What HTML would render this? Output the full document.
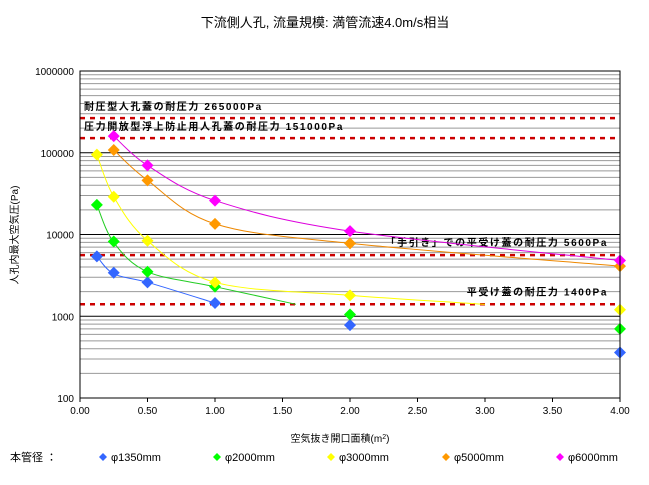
<!DOCTYPE html>
<html><head><meta charset="utf-8"><style>
body{margin:0;background:#fff;}
text{font-family:"Liberation Sans","Noto Sans CJK JP",sans-serif;}
</style></head><body>
<svg id="c" width="649" height="480" xmlns="http://www.w3.org/2000/svg">
<rect x="0" y="0" width="649" height="480" fill="#fff"/>
<text x="325" y="27" font-size="13" text-anchor="middle">下流側人孔, 流量規模: 満管流速4.0m/s相当</text>
<g id="grid"></g><g id="ref"></g><g id="series"></g><g id="axes"></g>
<text x="340" y="442" font-size="10" text-anchor="middle">空気抜き開口面積(m<tspan baseline-shift="super" font-size="7">2</tspan>)</text>
<text transform="translate(18,235) rotate(-90)" font-size="10" text-anchor="middle">人孔内最大空気圧(Pa)</text>
<text x="10" y="461" font-size="11">本管径 ：</text>
<g id="legend"></g>
</svg>
<script>
const xs=[0.125,0.25,0.5,1,2,4];
const names=["φ1350mm","φ2000mm","φ3000mm","φ5000mm","φ6000mm"];
const colors=["#3366ff","#00ff00","#ffff00","#ff9900","#ff00ff"];
const lineColors=["#3366ff","#22cc22","#ffff00","#ee8800","#dd00dd"];
const blue=[5400,3400,2600,1450,780,360];
const green=[23000,8200,3500,2300,1050,700];
const yellow=[95000,29000,8400,2600,1800,1200];
const orange=[null,108000,46000,13500,7800,4100];
const magenta=[null,160000,70000,26000,11000,4800];
const seriesVals=[blue,green,yellow,orange,magenta];
const curveBlue=[[0.125,5400],[0.25,3300],[0.5,2600],[1,1450]];
const curveGreen=[[0.125,23000],[0.25,8000],[0.5,3500],[1,2300],[1.6,1400]];
const curveYellow=[[0.125,95000],[0.25,29000],[0.5,8400],[1,2600],[2,1800],[3,1400]];
const curveOrange=[[0.25,108000],[0.5,46000],[1,13500],[2,7800],[4,4100]];
const curveMagenta=[[0.25,160000],[0.5,70000],[1,26000],[2,11000],[4,4800]];
const curves=[curveBlue,curveGreen,curveYellow,curveOrange,curveMagenta];
const refVals=[265000,151000,5600,1400];
const refLabels=["耐圧型人孔蓋の耐圧力  265000Pa","圧力開放型浮上防止用人孔蓋の耐圧力  151000Pa","「手引き」での平受け蓋の耐圧力  5600Pa","平受け蓋の耐圧力  1400Pa"];
const xTicks=[0,0.5,1,1.5,2,2.5,3,3.5,4];
const yTicks=[100,1000,10000,100000,1000000];
const X0=80,X1=620,Y0=398,Y1=71;
const sx=v=>X0+(v/4)*(X1-X0);
const sy=v=>Y0-(Math.log10(v)-2)/4*(Y0-Y1);
const NS="http://www.w3.org/2000/svg";
function mk(t,a,p){const e=document.createElementNS(NS,t);for(const k in a)e.setAttribute(k,a[k]);p.appendChild(e);return e;}
const grid=document.getElementById('grid'),ref=document.getElementById('ref'),ser=document.getElementById('series'),ax=document.getElementById('axes'),leg=document.getElementById('legend');
for(let d=2;d<6;d++)for(let m=2;m<10;m++){const y=sy(m*Math.pow(10,d));
 const l=mk('line',{x1:X0,x2:X1,y1:y,y2:y,stroke:'#999','stroke-width':1},grid);
 
 }
yTicks.forEach(v=>{const y=sy(v);
 const l=mk('line',{x1:X0,x2:X1,y1:y,y2:y,stroke:'#000','stroke-width':1},grid);
 
 
 const t=mk('text',{x:X0-6,y:y+4,'font-size':10,'text-anchor':'end'},ax);t.textContent=v;
 
 });
xTicks.forEach(v=>{const x=sx(v);
 mk('line',{x1:x,x2:x,y1:Y0,y2:Y0+4,stroke:'#000'},ax);
 const t=mk('text',{x:x,y:Y0+16,'font-size':10,'text-anchor':'middle'},ax);t.textContent=v.toFixed(2);
 
 });
const fr=mk('rect',{x:X0,y:Y1,width:X1-X0,height:Y0-Y1,fill:'none',stroke:'#000'},ax);


const labelPos=[[84,-8,'start'],[84,-8,'start'],[608,-9,'end'],[608,-9,'end']];
refVals.forEach((v,i)=>{const y=sy(v);
 const l=mk('line',{x1:X0,x2:X1,y1:y,y2:y,stroke:'#cc0000','stroke-width':2.5,'stroke-dasharray':'5,5'},ref);
 
 
 const t=mk('text',{x:labelPos[i][0],y:y+labelPos[i][1],'font-size':10,'font-weight':'bold','letter-spacing':'1.6','text-anchor':labelPos[i][2]},ref);t.textContent=refLabels[i];
 
 });
function path(pts){const p=pts.map(q=>[sx(q[0]),sy(q[1])]);let d='M'+p[0][0]+','+p[0][1];
 for(let i=0;i<p.length-1;i++){const a=p[i-1]||p[i],b=p[i],c=p[i+1],e=p[i+2]||c;
 d+=' C'+(b[0]+(c[0]-a[0])/6)+','+(b[1]+(c[1]-a[1])/6)+' '+(c[0]-(e[0]-b[0])/6)+','+(c[1]-(e[1]-b[1])/6)+' '+c[0]+','+c[1];}return d;}
curves.forEach((c,i)=>{const p=mk('path',{d:path(c),fill:'none',stroke:lineColors[i],'stroke-width':1},ser);
 
 });
seriesVals.forEach((vals,i)=>vals.forEach((v,j)=>{if(v==null)return;const x=sx(xs[j]),y=sy(v);
 const m=mk('polygon',{points:`${x},${y-6} ${x+6},${y} ${x},${y+6} ${x-6},${y}`,fill:colors[i]},ser);
 
 }));
const lx=[103,217,331,446,560];
names.forEach((n,i)=>{const x=lx[i],y=457;
 const g=mk('g',{},leg);
 
 
 mk('polygon',{points:`${x},${y-4} ${x+4},${y} ${x},${y+4} ${x-4},${y}`,fill:colors[i]},g);
 const t=mk('text',{x:x+8,y:y+4,'font-size':11},g);t.textContent=n;});
</script>
</body></html>
